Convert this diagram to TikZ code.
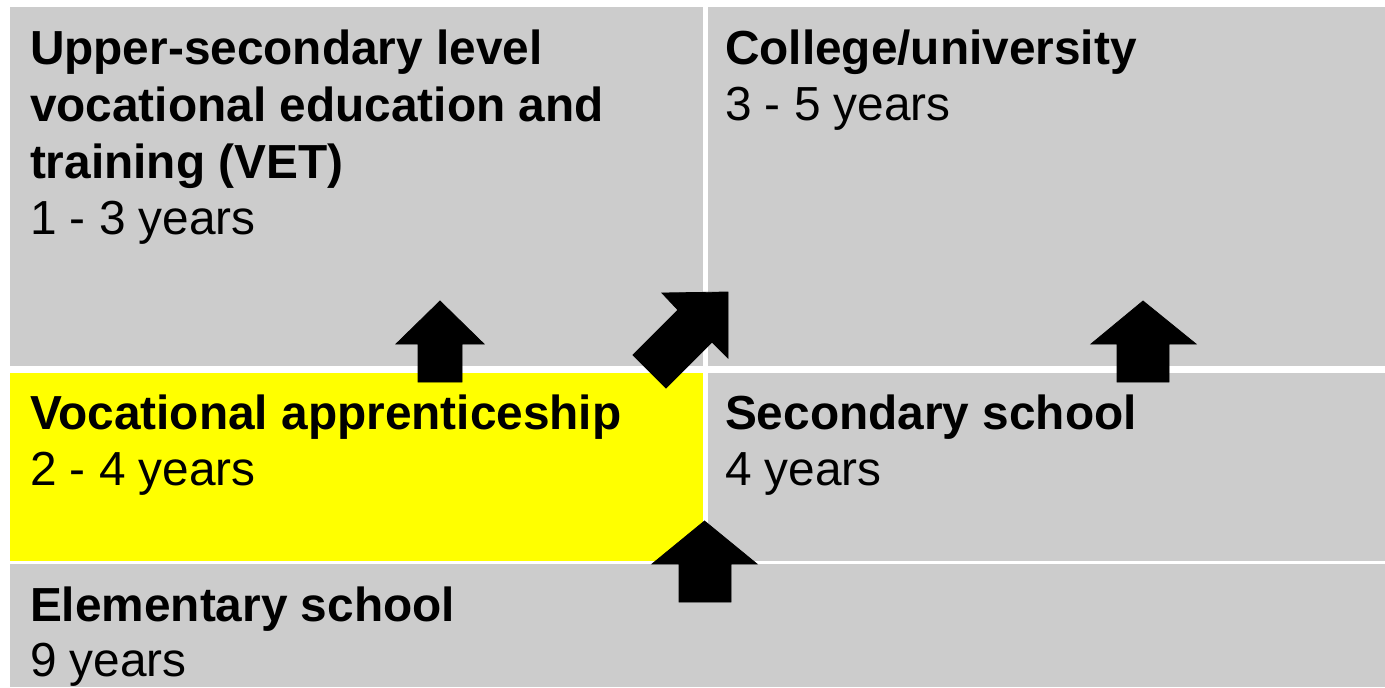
\documentclass[tikz,border=0pt]{standalone}
\usepackage{fontspec}
\setmainfont{Liberation Sans}
\definecolor{boxgray}{HTML}{CCCCCC}
\definecolor{appyellow}{HTML}{FFFF00}
\begin{document}
\begin{tikzpicture}[x=0.5pt,y=-0.5pt,
  lbl/.style={anchor=base west,inner sep=0pt,outer sep=0pt,font=\fontsize{23.9}{28}\selectfont},
  head/.style={lbl,font=\fontsize{23.9}{28}\selectfont\bfseries},
  blockarrow/.style={fill=black,draw=black,line width=0.4pt,line join=miter}]
\useasboundingbox[fill=white] (0,0) rectangle (1385,687);
% boxes
\fill[boxgray] (10,7) rectangle (703,366);
\fill[boxgray] (708,7) rectangle (1385,366);
\fill[appyellow] (10,373) rectangle (703,561);
\fill[boxgray] (708,373) rectangle (1385,561);
\fill[boxgray] (10,564) rectangle (1385,687);
% texts
\node[head] (vet1) at (30,64) {Upper-secondary level};
\node[head] (vet2) at (30,121) {vocational education and};
\node[head] (vet3) at (30,178) {training (VET)};
\node[lbl] (vet4) at (30,234) {1 - 3 years};
\node[head] (col1) at (725,64) {College/university};
\node[lbl] (col2) at (725,120) {3 - 5 years};
\node[head] (app1) at (30,429) {Vocational apprenticeship};
\node[lbl] (app2) at (30,485) {2 - 4 years};
\node[head] (sec1) at (725,429) {Secondary school};
\node[lbl] (sec2) at (725,485) {4 years};
\node[head] (ele1) at (30,621) {Elementary school};
\node[lbl] (ele2) at (30,676) {9 years};
% arrows
\draw[blockarrow] (440,301) -- (484,344) -- (462,344) -- (462,382) -- (418,382) -- (418,344) -- (396,344) -- cycle;
\draw[blockarrow] (1143,301) -- (1196,344) -- (1169,344) -- (1169,382) -- (1117,382) -- (1117,344) -- (1091,344) -- cycle;
\draw[blockarrow] (704.5,521) -- (757,564) -- (731,564) -- (731,602) -- (679,602) -- (679,564) -- (652,564) -- cycle;
\draw[blockarrow] (728,292) -- (728,358) -- (712,342) -- (666,388) -- (633,355) -- (678,310) -- (662,293) -- cycle;
\end{tikzpicture}
\end{document}
